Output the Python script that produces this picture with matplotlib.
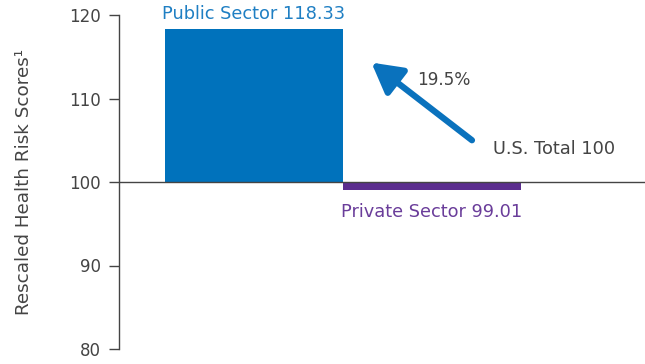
import matplotlib
matplotlib.use('Agg')
import matplotlib.pyplot as plt

# Rescaled health risk scores relative to U.S. total = 100
sectors = ['Public Sector', 'Private Sector']
scores = [118.33, 99.01]
baseline = 100
pct_diff = '19.5%'
yticks = [80, 90, 100, 110, 120]

bar_colors = ['#0072bc', '#5b2d8e']
text_colors = ['#1f7fc3', '#6a3d9a']
grey = '#444444'

plt.rcParams['font.family'] = ['DejaVu Sans']

fig = plt.figure(figsize=(6.45, 3.64), dpi=100)
ax = fig.add_axes([119/645, 15/364, 526/645, 334/364])

x = [0, 1]
heights = [s - baseline for s in scores]
ax.bar(x, heights, width=1.0, bottom=baseline, color=bar_colors, linewidth=0)
ax.axhline(baseline, color=grey, lw=1, zorder=3)

ax.set_xlim(-0.758, 2.197)
ax.set_ylim(80, 120)
ax.set_yticks(yticks)
ax.tick_params(axis='y', direction='out', length=7, width=1, color=grey,
               labelsize=12, labelcolor=grey, pad=6)
ax.set_xticks([])
for s in ['top', 'right', 'bottom']:
    ax.spines[s].set_visible(False)
ax.spines['left'].set_color(grey)
ax.spines['left'].set_linewidth(1)
ax.set_ylabel('Rescaled Health Risk Scores\u00b9', fontsize=13.2, color=grey, labelpad=26)

# value labels
ax.text(x[0], scores[0] + 0.75, f'{sectors[0]} {scores[0]:.2f}', ha='center', va='bottom',
        fontsize=12.8, color=text_colors[0])
ax.text(x[1], scores[1] - 1.5, f'{sectors[1]} {scores[1]:.2f}', ha='center', va='top',
        fontsize=12.8, color=text_colors[1])

# arrow from U.S. total up to public sector
ax.annotate('', xy=(0.66, 114.3), xytext=(1.225, 105.0),
            arrowprops=dict(arrowstyle='-|>,head_length=0.9,head_width=0.5', lw=4.5,
                            color='#0a72bd', shrinkA=0, shrinkB=0, mutation_scale=20))
ax.text(1.065, 112.2, pct_diff, ha='center', va='center', fontsize=12.2, color=grey)
ax.text(1.343, 103.9, f'U.S. Total {baseline}', ha='left', va='center', fontsize=12.8, color=grey)

fig.savefig('out.png', dpi=100)
